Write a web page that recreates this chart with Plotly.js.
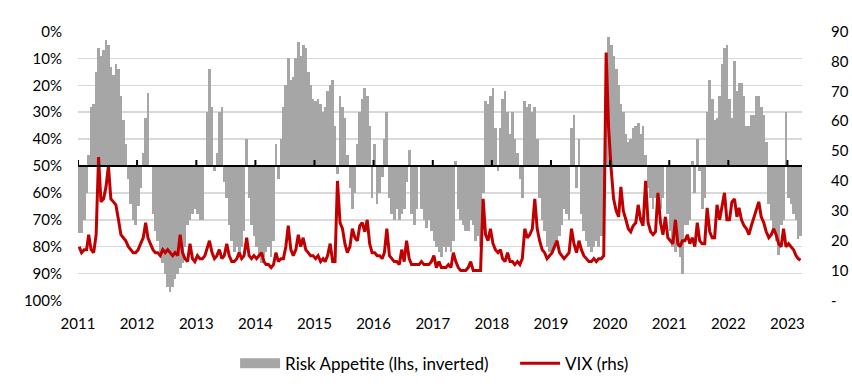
<!DOCTYPE html>
<html><head><meta charset="utf-8">
<script src="https://cdn.plot.ly/plotly-3.0.1.min.js"></script>
<style>html,body{margin:0;padding:0;background:#fff}#chart{width:852px;height:386px}</style>
</head><body><div id="chart"></div>
<script>
const years = [2011,2012,2013,2014,2015,2016,2017,2018,2019,2020,2021,2022,2023];
const tickLabels = ['2011','2012','2013','2014','2015','2016','2017','2018','2019','2020','2021','2022','2023'];
const leftTicks = [0,10,20,30,40,50,60,70,80,90,100];
const leftLabels = ['0%','10%','20%','30%','40%','50%','60%','70%','80%','90%','100%'];
const rightTicks = [0,10,20,30,40,50,60,70,80,90];
const rightLabels = ['-','10','20','30','40','50','60','70','80','90'];

// Risk Appetite (lhs, inverted), %  — semi-monthly readings
const ra2011 = [75,75,70,60,46,28,27,15,6,9,7,3,5,13,16,12,14,24,33,42,55,64,70,72];
const ra2012 = [65,58,45,32,23,50,68,74,78,82,86,90,95,97,95,92,90,88,86,80,72,70,68,66];
const ra2013 = [68,70,70,50,30,14,28,52,45,30,28,56,62,72,78,82,80,83,80,74,40,62,72,76];
const ra2014 = [80,84,86,84,82,80,84,78,42,55,40,28,20,10,18,17,10,4,9,5,6,15,20,25];
const ra2015 = [26,25,27,30,28,22,20,18,35,53,24,28,32,46,58,66,60,42,30,25,21,24,35,62];
const ra2016 = [42,64,60,54,40,30,62,68,70,66,70,68,66,56,44,68,72,66,50,66,70,73,70,74];
const ra2017 = [78,80,82,84,80,82,80,82,78,48,66,70,72,74,74,70,72,78,76,80,60,26,27,24];
const ra2018 = [21,36,52,36,25,22,30,38,30,40,45,55,62,26,28,27,30,28,40,62,70,74,80,82];
const ra2019 = [82,80,78,76,72,66,68,70,36,31,58,40,68,74,78,80,82,80,78,80,76,66,10,2];
const ra2020 = [5,9,14,20,27,30,38,41,40,36,35,34,38,35,46,58,62,66,62,62,66,62,50,68];
const ra2021 = [74,80,82,80,84,90,72,72,70,48,60,40,52,66,62,30,18,25,33,32,24,12,6,5];
const ra2022 = [25,32,11,22,19,19,24,35,35,31,31,24,24,28,31,41,64,70,74,78,83,72,70,30];
const ra2023 = [62,64,68,70,77,76];

// VIX (rhs)
const vix2011 = [18,16,17,17,22,17,16,22,48,33,34,38,45,34,33,32,27,22,21,20,18,17,16,16];
const vix2012 = [17,19,21,26,21,19,17,16,16,15,17,16,17,16,15,16,15,22,16,14,13,19,14,13];
const vix2013 = [15,14,14,15,17,20,16,14,15,17,14,15,19,15,13,13,14,16,14,15,21,15,14,15];
const vix2014 = [14,15,16,13,12,12,11,12,16,13,14,14,18,25,17,15,17,22,18,21,17,16,15,15];
const vix2015 = [14,15,13,14,13,15,19,13,13,40,26,24,19,16,18,24,21,20,25,26,23,27,19,16];
const vix2016 = [16,15,15,14,16,24,15,14,13,13,12,17,13,20,14,12,12,12,12,13,12,12,12,13];
const vix2017 = [15,11,13,11,11,11,12,11,16,13,11,10,10,10,11,13,10,10,10,10,34,22,20,24];
const vix2018 = [19,17,16,17,14,13,16,13,13,12,13,12,14,24,21,22,24,34,24,20,17,16,14,15];
const vix2019 = [16,18,20,16,15,14,15,16,24,19,16,20,17,15,14,13,13,14,13,14,14,15,83,58];
const vix2020 = [44,34,30,28,38,30,27,24,23,25,26,32,27,25,40,26,23,22,23,36,26,22,28,21];
const vix2021 = [20,19,27,19,18,20,20,22,19,21,18,26,20,19,19,31,23,21,21,32,27,31,36,27];
const vix2022 = [27,33,34,28,31,27,25,24,22,25,28,30,33,28,26,23,21,22,24,22,19,18,24,18];
const vix2023 = [19,18,17,15,14,13.5];

const raYears = [ra2011,ra2012,ra2013,ra2014,ra2015,ra2016,ra2017,ra2018,ra2019,ra2020,ra2021,ra2022,ra2023];
const vixYears = [vix2011,vix2012,vix2013,vix2014,vix2015,vix2016,vix2017,vix2018,vix2019,vix2020,vix2021,vix2022,vix2023];

function datesFor(year, n) {
  const out = [];
  for (let k = 0; k < n; k++) {
    const m = Math.floor(k / 2) + 1;
    out.push(year + '-' + (m < 10 ? '0' + m : m) + '-' + (k % 2 ? '23' : '08'));
  }
  return out;
}
let raX = [], raY = [], vixX = [], vixY = [];
years.forEach((yr, i) => {
  raX = raX.concat(datesFor(yr, raYears[i].length));
  raY = raY.concat(raYears[i]);
  vixX = vixX.concat(datesFor(yr, vixYears[i].length));
  vixY = vixY.concat(vixYears[i]);
});
const baseline = 50;
const tickVals = years.map(y => y + '-01-01');
const xRange = ['2011-01-01', '2023-04-01'];
const DAY = 86400000;
function f(size) { return {family: 'Lato, "Open Sans", sans-serif', size: size, color: '#000'}; }

const traces = [
  {type: 'bar', x: raX, y: raY.map(v => v - baseline), base: baseline, width: 17 * DAY,
   marker: {color: '#a6a6a6', line: {width: 0}}, showlegend: false,
   xaxis: 'x', yaxis: 'y', hoverinfo: 'skip'},
  {type: 'scatter', mode: 'lines', x: [null], y: [null], name: 'Risk Appetite (lhs, inverted)',
   line: {color: '#a6a6a6', width: 10}, xaxis: 'x', yaxis: 'y'},
  {type: 'scatter', mode: 'lines', x: vixX, y: vixY, name: 'VIX (rhs)',
   line: {color: '#c00000', width: 3}, xaxis: 'x', yaxis: 'y2'}
];

// category axis crossing at the 50% baseline, with year tick marks
const shapes = [{type: 'line', xref: 'paper', x0: 0, x1: 1, yref: 'y', y0: baseline, y1: baseline,
                 line: {color: '#000', width: 2}, layer: 'above'}];
tickVals.forEach(d => shapes.push({type: 'line', xref: 'x', x0: d, x1: d, yref: 'y',
  ysizemode: 'pixel', yanchor: baseline, y0: 0, y1: 6, line: {color: '#000', width: 2}, layer: 'above'}));

const layout = {
  width: 852, height: 386,
  margin: {l: 78, r: 50, t: 31, b: 85, autoexpand: false},
  paper_bgcolor: '#fff', plot_bgcolor: '#fff',
  font: f(15),
  bargap: 0,
  showlegend: true,
  legend: {orientation: 'h', x: 0.217, xanchor: 'left', y: -0.166, yanchor: 'top',
           font: f(17), bgcolor: 'rgba(0,0,0,0)', itemwidth: 40, entrywidth: 225, entrywidthmode: 'pixels'},
  xaxis: {type: 'date', range: xRange, tickmode: 'array', tickvals: tickVals, ticktext: tickLabels,
          showgrid: false, zeroline: false, showline: false, ticks: '',
          tickfont: f(15), ticklabelstandoff: 12},
  yaxis: {type: 'linear', range: [100.2, -0.2], tickmode: 'array', tickvals: leftTicks, ticktext: leftLabels,
          showgrid: true, gridcolor: '#d9d9d9', gridwidth: 1.5, zeroline: false,
          showline: false, ticks: '', tickfont: f(15), ticklabelstandoff: 15},
  yaxis2: {type: 'linear', range: [-0.18, 90.18], overlaying: 'y', side: 'right', anchor: 'x',
           tickmode: 'array', tickvals: rightTicks, ticktext: rightLabels,
           showgrid: false, zeroline: false, showline: false, ticks: '',
           tickfont: f(15), ticklabelstandoff: 28},
  shapes: shapes
};
Plotly.newPlot('chart', traces, layout, {displayModeBar: false, staticPlot: true});
</script></body></html>
